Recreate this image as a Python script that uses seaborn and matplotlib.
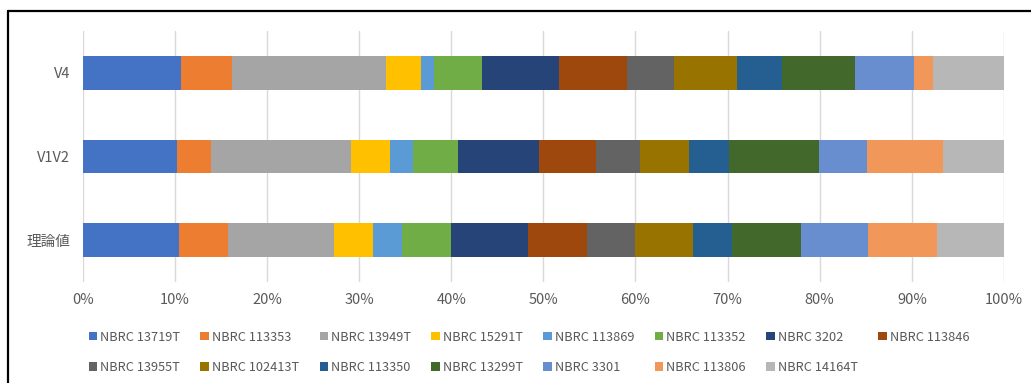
"""Stacked 100% bar chart of strain composition (V4 / V1V2 / theoretical)."""

import matplotlib.pyplot as plt
import numpy as np
import pandas as pd
import seaborn as sns
from matplotlib.lines import Line2D

sns.set_theme(style="white")
plt.rcParams["font.family"] = ["Noto Sans CJK JP", "DejaVu Sans"]

categories = ["V4", "V1V2", "理論値"]

strains = [
    "NBRC 13719T", "NBRC 113353", "NBRC 13949T", "NBRC 15291T", "NBRC 113869",
    "NBRC 113352", "NBRC 3202", "NBRC 113846", "NBRC 13955T", "NBRC 102413T",
    "NBRC 113350", "NBRC 13299T", "NBRC 3301", "NBRC 113806", "NBRC 14164T",
]

# percent share of each strain, same order as `strains`
v4 = [10.67, 5.50, 16.72, 3.80, 1.48, 5.20, 8.33, 7.35, 5.16, 6.84, 4.82, 7.96, 6.43, 2.07, 7.67]
v1v2 = [10.20, 3.69, 15.20, 4.27, 2.53, 4.88, 8.79, 6.16, 4.77, 5.29, 4.40, 9.74, 5.18, 8.25, 6.65]
theory = [10.48, 5.32, 11.48, 4.26, 3.15, 5.25, 8.43, 6.41, 5.17, 6.33, 4.20, 7.49, 7.30, 7.43, 7.30]

colors = [
    "#4472C4", "#ED7D31", "#A5A5A5", "#FFC000", "#5B9BD5",
    "#70AD47", "#264478", "#9E480E", "#636363", "#997300",
    "#255E91", "#43682B", "#698ED0", "#F1975A", "#B7B7B7",
]

TEXT = "#595959"
FS = 10.5

df = pd.DataFrame([v4, v1v2, theory], index=categories, columns=strains)
cum = df.cumsum(axis=1)

fig = plt.figure(figsize=(10.31, 3.83), dpi=100)
ax = fig.add_axes([0.0802, 0.2637, 0.8936, 0.6553])

# draw cumulative bars back to front so each segment shows its own share
handles = {}
for i in reversed(range(len(strains))):
    name = strains[i]
    sns.barplot(x=cum[name].values, y=categories, color=colors[i], saturation=1,
                width=0.4, orient="h", linewidth=0, ax=ax, label=name)
    handles[name] = ax.containers[-1].patches[0]
if ax.get_legend() is not None:
    ax.get_legend().remove()

ax.set_xlim(0, 100)
ax.set_xticks(np.arange(0, 101, 10))
ax.set_xticklabels([f"{v}%" for v in range(0, 101, 10)])
ax.set_xlabel("")
ax.set_ylabel("")
ax.xaxis.grid(True, color="#D9D9D9", linewidth=1.0)
ax.yaxis.grid(False)
ax.set_axisbelow(True)
for s in ax.spines.values():
    s.set_visible(False)
ax.tick_params(axis="x", length=0, pad=8, labelsize=FS, labelcolor=TEXT)
ax.tick_params(axis="y", length=0, pad=9, labelsize=FS, labelcolor=TEXT)

# legend: row-wise order like the original, 8 columns
row1, row2 = strains[:8], strains[8:]
order = []
for i in range(8):
    order.append(row1[i])
    if i < len(row2):
        order.append(row2[i])
fig.legend([handles[n] for n in order], order, loc="upper center",
           bbox_to_anchor=(0.513, 0.137), ncol=8, frameon=False, fontsize=9.2,
           labelcolor=TEXT, handlelength=0.65, handleheight=0.65,
           handletextpad=0.25, columnspacing=1.6, labelspacing=1.35,
           borderpad=0, borderaxespad=0)

# outer frame (top and left edges visible in the reference)
fig.add_artist(Line2D([8 / 1031, 1.0], [1 - 11 / 383, 1 - 11 / 383], color="black", lw=1.6))
fig.add_artist(Line2D([8 / 1031, 8 / 1031], [0, 1 - 11 / 383], color="black", lw=1.6))

fig.savefig("out.png", dpi=100)
